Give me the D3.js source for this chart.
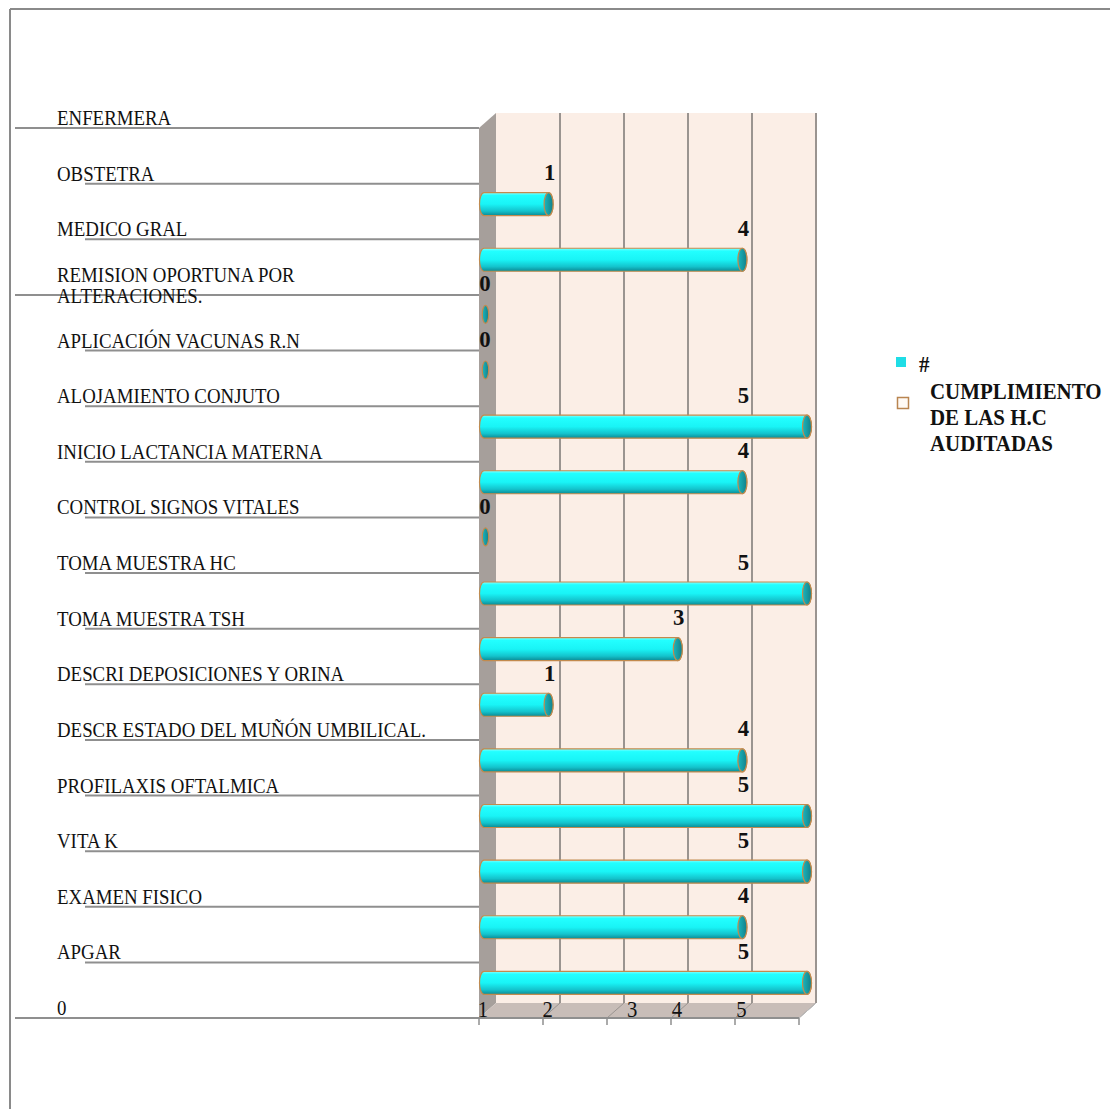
<!DOCTYPE html>
<html>
<head>
<meta charset="utf-8">
<script src="https://cdn.jsdelivr.net/npm/d3@7"></script>
<style>
  html, body { margin: 0; padding: 0; background: #fff; }
  svg { display: block; }
</style>
</head>
<body>
<script>
// ---------------- DATA ----------------
const categories = [
  "ENFERMERA",
  "OBSTETRA",
  "MEDICO GRAL",
  "REMISION OPORTUNA POR\nALTERACIONES.",
  "APLICACIÓN VACUNAS R.N",
  "ALOJAMIENTO CONJUTO",
  "INICIO LACTANCIA MATERNA",
  "CONTROL SIGNOS VITALES",
  "TOMA MUESTRA HC",
  "TOMA MUESTRA TSH",
  "DESCRI DEPOSICIONES Y ORINA",
  "DESCR ESTADO DEL MUÑÓN UMBILICAL.",
  "PROFILAXIS OFTALMICA",
  "VITA K",
  "EXAMEN FISICO",
  "APGAR",
  "0"
];
const values = [null, 1, 4, 0, 0, 5, 4, 0, 5, 3, 1, 4, 5, 5, 4, 5, null];
const tickValues = [0, 1, 2, 3, 4, 5];
const tickLabels = ["1", "2", "3", "4", "5"];
const legendItems = ["#", "CUMPLIMIENTO\nDE LAS H.C\nAUDITADAS"];

// ---------------- LAYOUT ----------------
const W = 1110, H = 1109;
const FONT = "'Liberation Serif', serif";
const svg = d3.select("body").append("svg").attr("width", W).attr("height", H);
const defs = svg.append("defs");

const gBody = defs.append("linearGradient").attr("id", "cyl").attr("x1", 0).attr("y1", 0).attr("x2", 0).attr("y2", 1);
[[0, "#8affff"], [0.12, "#22ffff"], [0.5, "#19f4f6"], [0.8, "#14c3cc"], [1, "#0b8a94"]]
  .forEach(([o, c]) => gBody.append("stop").attr("offset", o).attr("stop-color", c));
const gCap = defs.append("linearGradient").attr("id", "cap").attr("x1", 0).attr("y1", 0).attr("x2", 1).attr("y2", 0);
[[0, "#1bb7be"], [1, "#137f88"]].forEach(([o, c]) => gCap.append("stop").attr("offset", o).attr("stop-color", c));

// condensed text helper (narrow serif look)
function ctext(parent, x, y, str, size, sx, opts = {}) {
  const t = parent.append("text")
    .attr("transform", `translate(${x},${y}) scale(${sx},1)`)
    .attr("font-family", FONT).attr("font-size", size).attr("fill", "#111")
    .text(str);
  if (opts.bold) t.attr("font-weight", "bold");
  if (opts.anchor) t.attr("text-anchor", opts.anchor);
  return t;
}

const depthX = 17, depthY = 15;
const yLine = d3.scalePoint().domain(d3.range(categories.length)).range([128, 1018]);
const xBar = d3.scaleLinear().domain([0, 5]).range([484, 807]);
const xFront = d3.scaleLinear().domain([0, 5]).range([479, 799]);
const xBack = d3.scaleLinear().domain([0, 5]).range([479 + depthX, 799 + depthX]);
const yTop = yLine(0) - depthY, yBottom = yLine(categories.length - 1);

// outer frame
svg.append("line").attr("x1", 10).attr("y1", 9).attr("x2", W).attr("y2", 9).attr("stroke", "#8a8a8a").attr("stroke-width", 2);
svg.append("line").attr("x1", 10).attr("y1", 9).attr("x2", 10).attr("y2", H).attr("stroke", "#8a8a8a").attr("stroke-width", 2);

// back wall
svg.append("rect").attr("x", xBack(0)).attr("y", yTop)
  .attr("width", xBack(5) - xBack(0)).attr("height", yBottom - depthY - yTop)
  .attr("fill", "#fbeee6");
// side wall
svg.append("path")
  .attr("d", `M${xFront(0)},${yLine(0)} L${xBack(0)},${yTop} L${xBack(0)},${yBottom - depthY} L${xFront(0)},${yBottom} Z`)
  .attr("fill", "#a69f9b");
// floor
svg.append("path")
  .attr("d", `M${xFront(0)},${yBottom} L${xBack(0)},${yBottom - depthY} L${xBack(5)},${yBottom - depthY} L${xFront(5)},${yBottom} Z`)
  .attr("fill", "#c8bdb8");
// floor grid slants
svg.selectAll(".fslant").data(tickValues.slice(1)).join("line")
  .attr("x1", d => xFront(d)).attr("y1", yBottom).attr("x2", d => xBack(d)).attr("y2", yBottom - depthY)
  .attr("stroke", "#9a9490").attr("stroke-width", 1);
// back wall grid lines
svg.selectAll(".grid").data(tickValues.slice(1)).join("line")
  .attr("x1", d => xBack(d)).attr("x2", d => xBack(d))
  .attr("y1", yTop).attr("y2", yBottom - depthY)
  .attr("stroke", "#9a9490").attr("stroke-width", 2);

// category row lines
const wideRows = new Set([0, 3, categories.length - 1]);
svg.selectAll(".rowline").data(categories).join("line")
  .attr("x1", (d, i) => wideRows.has(i) ? 15 : 85)
  .attr("x2", xFront(0))
  .attr("y1", (d, i) => yLine(i)).attr("y2", (d, i) => yLine(i))
  .attr("stroke", "#8f8f8f").attr("stroke-width", 2);
// floor front edge + ticks
svg.append("line").attr("x1", xFront(0)).attr("x2", xFront(5)).attr("y1", yBottom).attr("y2", yBottom)
  .attr("stroke", "#8f8f8f").attr("stroke-width", 2);
svg.selectAll(".tick").data(tickValues).join("line")
  .attr("x1", d => xFront(d)).attr("x2", d => xFront(d))
  .attr("y1", yBottom).attr("y2", yBottom + 7)
  .attr("stroke", "#8f8f8f").attr("stroke-width", 1.5);
svg.append("line").attr("x1", xFront(5)).attr("y1", yBottom).attr("x2", xBack(5)).attr("y2", yBottom - depthY)
  .attr("stroke", "#bdbdbd").attr("stroke-width", 1);

// category labels
const catG = svg.append("g");
categories.forEach((c, i) => {
  const lines = c.split("\n");
  const lh = 21;
  const base = yLine(i) - 3 - (lines.length - 1) * (lh / 2) + (lines.length - 1) * 1;
  lines.forEach((ln, k) => ctext(catG, 57, base + k * lh, ln, 20.5, 0.92));
});

// bars
const r = 11.5, capRx = 4.5;
const barG = svg.append("g");
const labG = svg.append("g");
values.forEach((v, i) => {
  if (v === null) return;
  const cy = yLine(i) + 20.5;
  const x0 = xBar(0), x1 = xBar(v);
  if (v > 0) {
    barG.append("path")
      .attr("d", `M${x0},${cy - r} L${x1},${cy - r} A${capRx},${r} 0 0 1 ${x1},${cy + r} L${x0},${cy + r} A${capRx},${r} 0 0 1 ${x0},${cy - r} Z`)
      .attr("fill", "url(#cyl)").attr("stroke", "#c28a4e").attr("stroke-width", 1.2);
    barG.append("ellipse").attr("cx", x1).attr("cy", cy).attr("rx", capRx).attr("ry", r)
      .attr("fill", "url(#cap)").attr("stroke", "#c28a4e").attr("stroke-width", 1.2);
  } else {
    barG.append("ellipse").attr("cx", x0 + 1.5).attr("cy", cy - 1).attr("rx", 3.2).attr("ry", 9)
      .attr("fill", "url(#cap)").attr("stroke", "#c28a4e").attr("stroke-width", 1.2);
  }
  ctext(labG, xBar(Math.min(v, 4)) + 1, cy - 24, v, 24, 0.95, { bold: true, anchor: "middle" });
});

// axis tick labels (on floor)
const tickNudge = [0, 0, 20, 0, 0];
const tickG = svg.append("g");
tickLabels.forEach((d, i) => ctext(tickG, xBar(i) + tickNudge[i] - 1, yBottom - 1, d, 23, 0.9, { anchor: "middle" }));

// legend
const lg = svg.append("g");
lg.append("rect").attr("x", 896).attr("y", 357).attr("width", 10).attr("height", 10).attr("fill", "#1fdde6");
ctext(lg, 919, 372, legendItems[0], 23, 0.91, { bold: true });
lg.append("rect").attr("x", 897.5).attr("y", 397.5).attr("width", 11).attr("height", 11)
  .attr("fill", "#fffaf5").attr("stroke", "#b98550").attr("stroke-width", 1.5);
legendItems[1].split("\n").forEach((ln, k) => ctext(lg, 930, 399 + k * 26, ln, 23, 0.91, { bold: true }));
</script>
</body>
</html>
